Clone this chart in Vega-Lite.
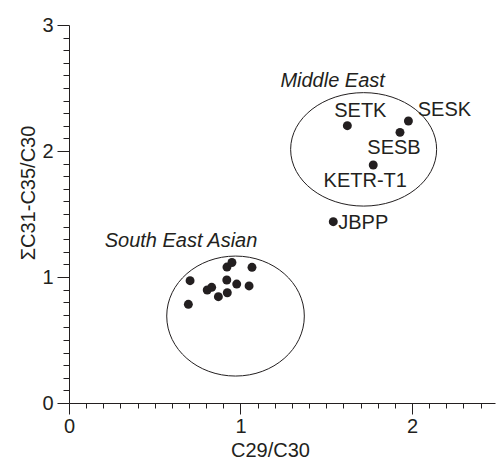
{
  "$schema": "https://vega.github.io/schema/vega-lite/v6.json",
  "autosize": {"type": "none"},
  "padding": {"left": 69, "top": 25, "right": 1, "bottom": 58},
  "width": 426,
  "height": 378,
  "config": {
    "view": {"stroke": null},
    "font": "Liberation Sans",
    "axis": {
      "grid": false,
      "domainColor": "#231f20",
      "domainWidth": 1,
      "tickColor": "#231f20",
      "tickWidth": 1,
      "labelFont": "Liberation Sans",
      "labelFontSize": 20,
      "labelColor": "#231f20",
      "titleFont": "Liberation Sans",
      "titleFontSize": 20,
      "titleFontWeight": "normal",
      "titleColor": "#231f20",
      "labelFlush": false,
      "labelOverlap": false,
      "labelBound": false
    }
  },
  "datasets": {
    "samples": [
      {"x": 0.706, "y": 0.971, "group": "South East Asian", "name": ""},
      {"x": 0.696, "y": 0.783, "group": "South East Asian", "name": ""},
      {"x": 0.806, "y": 0.897, "group": "South East Asian", "name": ""},
      {"x": 0.832, "y": 0.918, "group": "South East Asian", "name": ""},
      {"x": 0.871, "y": 0.844, "group": "South East Asian", "name": ""},
      {"x": 0.923, "y": 0.875, "group": "South East Asian", "name": ""},
      {"x": 0.920, "y": 0.976, "group": "South East Asian", "name": ""},
      {"x": 0.978, "y": 0.944, "group": "South East Asian", "name": ""},
      {"x": 1.050, "y": 0.929, "group": "South East Asian", "name": ""},
      {"x": 1.067, "y": 1.077, "group": "South East Asian", "name": ""},
      {"x": 0.921, "y": 1.079, "group": "South East Asian", "name": ""},
      {"x": 0.950, "y": 1.115, "group": "South East Asian", "name": ""},
      {"x": 1.623, "y": 2.201, "group": "Middle East", "name": "SETK"},
      {"x": 1.979, "y": 2.238, "group": "Middle East", "name": "SESK"},
      {"x": 1.930, "y": 2.148, "group": "Middle East", "name": "SESB"},
      {"x": 1.774, "y": 1.889, "group": "Middle East", "name": "KETR-T1"},
      {"x": 1.541, "y": 1.439, "group": "Middle East", "name": "JBPP"}
    ],
    "regions": [
      {"region": "Middle East", "x": 1.718, "y": 2.013},
      {"region": "South East Asian", "x": 0.971, "y": 0.690}
    ]
  },
  "encoding": {
    "x": {
      "field": "x",
      "type": "quantitative",
      "scale": {"domain": [0, 2.484], "nice": false, "zero": false},
      "axis": {
        "title": "C29/C30",
        "values": [0, 0.1, 0.2, 0.3, 0.4, 0.5, 0.6, 0.7, 0.8, 0.9, 1, 1.1, 1.2, 1.3, 1.4, 1.5, 1.6, 1.7, 1.8, 1.9, 2, 2.1, 2.2, 2.3, 2.4],
        "labelExpr": "datum.value % 1 === 0 ? format(datum.value, 'd') : ''",
        "tickSize": {"condition": {"test": "datum.value % 1 === 0", "value": 11}, "value": 5},
        "labelPadding": 2,
        "titleX": 201,
        "titleY": 53,
        "titleBaseline": "alphabetic",
        "titleAlign": "center"
      }
    },
    "y": {
      "field": "y",
      "type": "quantitative",
      "scale": {"domain": [0, 3], "nice": false, "zero": false},
      "axis": {
        "title": "ΣC31-C35/C30",
        "values": [0, 0.1, 0.2, 0.3, 0.4, 0.5, 0.6, 0.7, 0.8, 0.9, 1, 1.1, 1.2, 1.3, 1.4, 1.5, 1.6, 1.7, 1.8, 1.9, 2, 2.1, 2.2, 2.3, 2.4, 2.5, 2.6, 2.7, 2.8, 2.9, 3],
        "labelExpr": "datum.value % 1 === 0 ? format(datum.value, 'd') : ''",
        "tickSize": {"condition": {"test": "datum.value % 1 === 0", "value": 12}, "value": 6},
        "labelPadding": 4,
        "titleX": -35,
        "titleY": 167.5,
        "titleAngle": -90,
        "titleBaseline": "alphabetic",
        "titleAlign": "center"
      }
    }
  },
  "layer": [
    {
      "data": {"name": "regions"},
      "transform": [{"filter": "datum.region === 'Middle East'"}],
      "mark": {
        "type": "point",
        "shape": "M 1 0 C 1 0.429 0.552 0.777 0 0.777 C -0.552 0.777 -1 0.429 -1 0 C -1 -0.429 -0.552 -0.777 0 -0.777 C 0.552 -0.777 1 -0.429 1 0 Z",
        "size": 21316,
        "filled": false,
        "stroke": "#231f20",
        "strokeWidth": 1,
        "opacity": 1
      }
    },
    {
      "data": {"name": "regions"},
      "transform": [{"filter": "datum.region === 'South East Asian'"}],
      "mark": {
        "type": "point",
        "shape": "M 1 0 C 1 0.481 0.552 0.872 0 0.872 C -0.552 0.872 -1 0.481 -1 0 C -1 -0.481 -0.552 -0.872 0 -0.872 C 0.552 -0.872 1 -0.481 1 0 Z",
        "size": 18934,
        "filled": false,
        "stroke": "#231f20",
        "strokeWidth": 1,
        "opacity": 1
      }
    },
    {
      "data": {"name": "regions"},
      "transform": [{"filter": "datum.region === 'Middle East'"}],
      "mark": {"type": "text", "fontSize": 20, "fontStyle": "italic", "color": "#231f20", "align": "center", "baseline": "alphabetic", "dx": -31, "dy": -62},
      "encoding": {"text": {"field": "region"}}
    },
    {
      "data": {"name": "regions"},
      "transform": [{"filter": "datum.region === 'South East Asian'"}],
      "mark": {"type": "text", "fontSize": 20, "fontStyle": "italic", "color": "#231f20", "align": "center", "baseline": "alphabetic", "dx": -54.5, "dy": -69},
      "encoding": {"text": {"field": "region"}}
    },
    {
      "data": {"name": "samples"},
      "mark": {"type": "circle", "size": 80, "color": "#231f20", "opacity": 1}
    },
    {
      "data": {"name": "samples"},
      "transform": [{"filter": "datum.name === 'SETK'"}],
      "mark": {"type": "text", "fontSize": 20, "color": "#231f20", "align": "center", "baseline": "alphabetic", "dx": 13, "dy": -9},
      "encoding": {"text": {"field": "name"}}
    },
    {
      "data": {"name": "samples"},
      "transform": [{"filter": "datum.name === 'SESK'"}],
      "mark": {"type": "text", "fontSize": 20, "color": "#231f20", "align": "center", "baseline": "alphabetic", "dx": 36, "dy": -5},
      "encoding": {"text": {"field": "name"}}
    },
    {
      "data": {"name": "samples"},
      "transform": [{"filter": "datum.name === 'SESB'"}],
      "mark": {"type": "text", "fontSize": 20, "color": "#231f20", "align": "center", "baseline": "alphabetic", "dx": -6, "dy": 22},
      "encoding": {"text": {"field": "name"}}
    },
    {
      "data": {"name": "samples"},
      "transform": [{"filter": "datum.name === 'KETR-T1'"}],
      "mark": {"type": "text", "fontSize": 20, "color": "#231f20", "align": "center", "baseline": "alphabetic", "dx": -8, "dy": 22},
      "encoding": {"text": {"field": "name"}}
    },
    {
      "data": {"name": "samples"},
      "transform": [{"filter": "datum.name === 'JBPP'"}],
      "mark": {"type": "text", "fontSize": 20, "color": "#231f20", "align": "left", "baseline": "alphabetic", "dx": 5, "dy": 7.5},
      "encoding": {"text": {"field": "name"}}
    }
  ]
}
